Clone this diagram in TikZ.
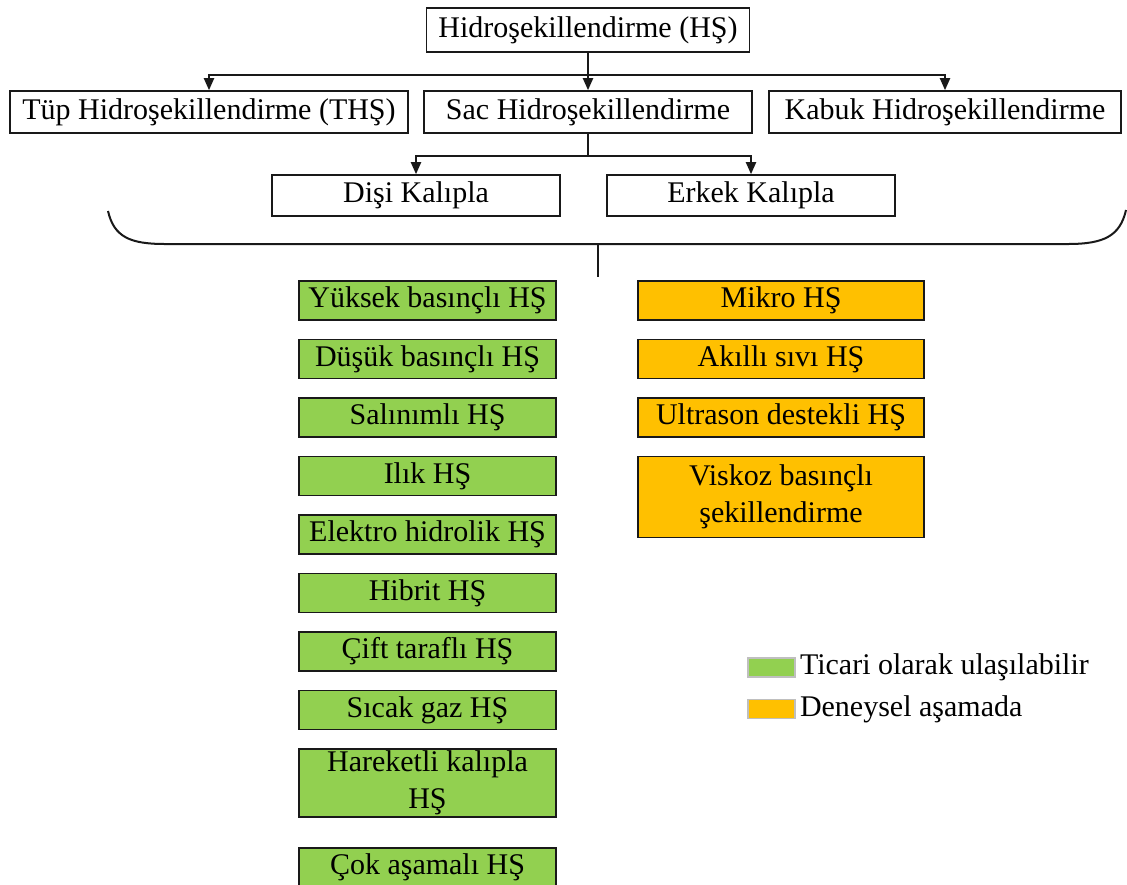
\documentclass[tikz,border=0pt]{standalone}
\usepackage{fontspec}
\setmainfont{Liberation Serif}
\usetikzlibrary{arrows.meta, positioning}
\definecolor{yesilofis}{HTML}{92D050}
\definecolor{turuncuofis}{HTML}{FFC000}
\colorlet{colCizgi}{black!90}
\colorlet{colTicari}{yesilofis}
\colorlet{colDeney}{turuncuofis}
\tikzset{
  kutuBase/.style={
    draw=colCizgi, line width=0.8pt, fill=white,
    inner sep=1pt, align=center,
    font=\fontsize{15}{18.5}\selectfont
  },
  kutuUst/.style={kutuBase, minimum height=21pt},
  kutuTicari/.style={kutuBase, fill=colTicari, minimum width=128.5pt, minimum height=19.5pt},
  kutuDeney/.style={kutuBase, fill=colDeney, minimum width=143pt, minimum height=19.5pt},
  lejantKutu/.style={draw=black!25, line width=0.6pt, minimum width=23.5pt,
    minimum height=9.5pt, inner sep=0pt},
  lejantYazi/.style={font=\fontsize{15}{18.5}\selectfont, inner sep=0pt},
  okCizgi/.style={-{Triangle[length=6pt, width=5pt]}, line width=1pt, colCizgi},
  hatCizgi/.style={line width=1pt, colCizgi},
}

\begin{document}
\begin{tikzpicture}[x=0.5pt, y=-0.5pt, node distance=8.95pt]
    \useasboundingbox (0,0) rectangle (1127,884);

    % ust seviye
    \node[kutuUst, minimum width=161.5pt, minimum height=22pt] (hs) at (588,30) {Hidroşekillendirme (HŞ)};
    \node[kutuUst, minimum width=199pt] (tup) at (209,112) {Tüp Hidroşekillendirme (THŞ)};
    \node[kutuUst, minimum width=164pt] (sac) at (588,112) {Sac Hidroşekillendirme};
    \node[kutuUst, minimum width=176pt] (kabuk) at (945,112) {Kabuk Hidroşekillendirme};
    \node[kutuUst, minimum width=144pt, minimum height=20.5pt] (disi) at (416,195.5) {Dişi Kalıpla};
    \node[kutuUst, minimum width=144pt, minimum height=20.5pt] (erkek) at (751,195.5) {Erkek Kalıpla};

    \coordinate (bus1) at (588,75);
    \coordinate (bus2) at (588,156);
    \draw[hatCizgi] (hs.south) -- (bus1);
    \draw[okCizgi] (bus1) -| (tup);
    \draw[okCizgi] (bus1) -- (sac);
    \draw[okCizgi] (bus1) -| (kabuk);
    \draw[hatCizgi] (sac.south) -- (bus2);
    \draw[okCizgi] (bus2) -| (disi);
    \draw[okCizgi] (bus2) -| (erkek);

    % kume parantezi
    \coordinate (kolUst) at (598,244);
    \coordinate (kolAlt) at (598,277);
    \draw[hatCizgi] (108,211) .. controls (114,237) and (130,244) .. (165,244)
      -- (1068,244) .. controls (1104,244) and (1120,236) .. (1126,210);
    \draw[hatCizgi] (kolUst) -- (kolAlt);

    % ticari olarak ulasilabilir
    \node[kutuTicari] (yuksek) at (427.5,300.5) {Yüksek basınçlı HŞ};
    \node[kutuTicari, below=of yuksek] (dusuk) {Düşük basınçlı HŞ};
    \node[kutuTicari, below=of dusuk] (salinimli) {Salınımlı HŞ};
    \node[kutuTicari, below=of salinimli] (ilik) {Ilık HŞ};
    \node[kutuTicari, below=of ilik] (elektro) {Elektro hidrolik HŞ};
    \node[kutuTicari, below=of elektro] (hibrit) {Hibrit HŞ};
    \node[kutuTicari, below=of hibrit] (cift) {Çift taraflı HŞ};
    \node[kutuTicari, below=of cift] (sicak) {Sıcak gaz HŞ};
    \node[kutuTicari, below=of sicak, minimum height=33pt] (hareketli) {Hareketli kalıpla\\HŞ};
    \node[kutuTicari, below=14.5pt of hareketli] (cok) {Çok aşamalı HŞ};

    % deneysel asamada
    \node[kutuDeney] (mikro) at (781,300.5) {Mikro HŞ};
    \node[kutuDeney, below=of mikro] (akilli) {Akıllı sıvı HŞ};
    \node[kutuDeney, below=of akilli] (ultrason) {Ultrason destekli HŞ};
    \node[kutuDeney, below=of ultrason, minimum height=40.5pt] (viskoz) {Viskoz basınçlı\\şekillendirme};

    % lejant
    \node[lejantKutu, fill=colTicari] (lejantYesil) at (771.5,667.5) {};
    \node[lejantKutu, fill=colDeney] (lejantTuruncu) at (771.5,709) {};
    \node[lejantYazi, right=2pt of lejantYesil] (yaziYesil) {Ticari olarak ulaşılabilir};
    \node[lejantYazi, right=2pt of lejantTuruncu] (yaziTuruncu) {Deneysel aşamada};
  \end{tikzpicture}
\end{document}
